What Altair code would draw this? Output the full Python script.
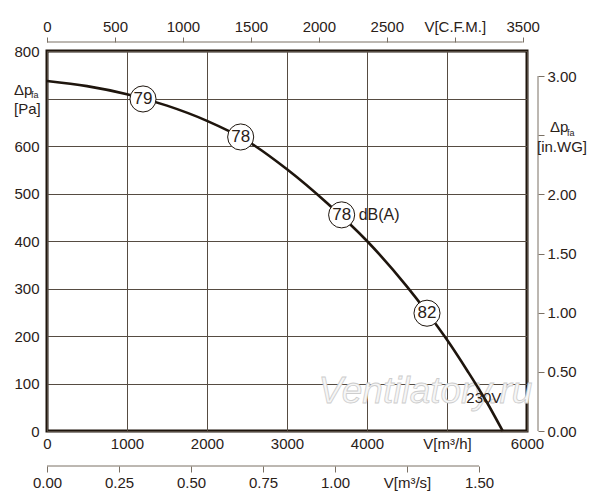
import altair as alt
import pandas as pd

# ---- data ----
flow_m3h = [0, 500, 1000, 1500, 2000, 2500, 3000, 3500, 4000, 4500, 4750, 5000, 5250, 5500, 5696]
pressure_pa = [737, 726, 709, 685, 653, 611, 551, 480, 400, 304, 250, 192, 128, 60, 0]

mark_flow = [1200, 2421, 3683, 4750]
mark_pa = [699, 619, 455, 248]
mark_db = ["79", "78", "78", "82"]
mark_unit = ["", "", "dB(A)", ""]

x_ticks = [0, 1000, 2000, 3000, 4000, 5000, 6000]
y_ticks = [0, 100, 200, 300, 400, 500, 600, 700, 800]
cfm_ticks = [0, 500, 1000, 1500, 2000, 2500, 3000, 3500]
m3s_ticks = [0, 0.25, 0.5, 0.75, 1.0, 1.25, 1.5]
inwg_ticks = [0, 0.5, 1.0, 1.5, 2.0, 2.5, 3.0]

M3H_PER_CFM = 1.699
M3H_PER_M3S = 3600.0
PA_PER_INWG = 249.089
X_MAX = 6000
Y_MAX = 800

W, H = 480, 380
FONT = "Liberation Sans"
DARK = "#1e150d"
TEXT = "#2a2118"
GRID = "#564c42"
AXC = "#7a7064"

curve_df = pd.DataFrame({"q": flow_m3h, "p": pressure_pa})
marks_df = pd.DataFrame({"q": mark_flow, "p": mark_pa, "db": mark_db, "unit": mark_unit})

xs = alt.Scale(domain=[0, X_MAX], nice=False, zero=True)
ys = alt.Scale(domain=[0, Y_MAX], nice=False, zero=True)

X_AXIS = alt.Axis(
    orient="bottom", values=x_ticks, format="d", title=None,
    ticks=False, tickSize=0, domain=False, grid=True, gridColor=GRID, gridWidth=1,
    labelPadding=5, labelFlush=False,
    labelExpr="datum.value == 5000 ? 'V[m³/h]' : datum.label")
Y_AXIS = alt.Axis(
    orient="left", values=y_ticks, format="d", title=None,
    ticks=False, tickSize=0, domain=False, grid=True, gridColor=GRID, gridWidth=1,
    labelPadding=8, labelFlush=False,
    labelExpr="datum.value == 700 ? '' : datum.label")


def fx(field=None, datum=None):
    if field is not None:
        return alt.X(field, scale=xs, axis=X_AXIS)
    return alt.X(datum=datum, scale=xs, axis=X_AXIS)


def fy(field=None, datum=None):
    if field is not None:
        return alt.Y(field, scale=ys, axis=Y_AXIS)
    return alt.Y(datum=datum, scale=ys, axis=Y_AXIS)


# ---- main plot ----
watermark = alt.Chart().mark_text(
    text="Ventilatory.ru", font=FONT, fontSize=37, fontStyle="italic",
    fill="#f6f6f6", stroke="#cdcdcd", strokeWidth=0.8
).encode(x=fx(datum=4730), y=fy(datum=82))

curve = alt.Chart(curve_df).mark_line(
    color=DARK, strokeWidth=2.6, interpolate="monotone"
).encode(x=fx("q:Q"), y=fy("p:Q"))

circles = alt.Chart(marks_df).mark_point(
    shape="circle", size=680, filled=True, fill="white", stroke=DARK, strokeWidth=1, opacity=1
).encode(x=fx("q:Q"), y=fy("p:Q"))

numbers = alt.Chart(marks_df).mark_text(
    font=FONT, fontSize=17, color=TEXT, baseline="middle"
).encode(x=fx("q:Q"), y=fy("p:Q"), text="db:N")

units = alt.Chart(marks_df).mark_text(
    font=FONT, fontSize=16, color=TEXT, align="left", baseline="middle", dx=17
).encode(x=fx("q:Q"), y=fy("p:Q"), text="unit:N")

volt = alt.Chart().mark_text(
    text="230V", font=FONT, fontSize=15, color=TEXT, baseline="middle"
).encode(x=fx(datum=5460), y=fy(datum=69))


def left_title(txt, dx, dy, size):
    return alt.Chart().mark_text(
        text=txt, font=FONT, fontSize=size, color=TEXT, align="left", baseline="middle", dx=dx, dy=dy
    ).encode(x=fx(datum=0), y=fy(datum=700))


main = alt.layer(
    watermark, curve, circles, numbers, units, volt,
    left_title("Δp", -33, -9, 15),
    left_title("fa", -16, -4, 9),
    left_title("[Pa]", -33, 10, 15),
)

# ---- top axis: C.F.M. ----
cfm_df = pd.DataFrame({"lo": [cfm_ticks[0]], "hi": [cfm_ticks[-1]]})
cfm = alt.Chart(cfm_df).mark_rule(color=AXC, strokeWidth=1).encode(
    x=alt.X("lo:Q", scale=alt.Scale(domain=[0, X_MAX / M3H_PER_CFM], nice=False, zero=True),
            axis=alt.Axis(orient="top", offset=9, values=cfm_ticks, format="d", title=None,
                          domain=False, ticks=True, tickSize=5, tickColor=AXC, grid=False,
                          labelPadding=3, labelFlush=False,
                          labelExpr="datum.value == 3000 ? 'V[C.F.M.]' : datum.label")),
    x2="hi:Q",
    y=alt.value(-9),
)

# ---- second bottom axis: m3/s ----
m3s_df = pd.DataFrame({"lo": [m3s_ticks[0]], "hi": [m3s_ticks[-1]]})
m3s = alt.Chart(m3s_df).mark_rule(color=AXC, strokeWidth=1).encode(
    x=alt.X("lo:Q", scale=alt.Scale(domain=[0, X_MAX / M3H_PER_M3S], nice=False, zero=True),
            axis=alt.Axis(orient="bottom", offset=35, values=m3s_ticks, format=".2f", title=None,
                          domain=False, ticks=True, tickSize=6, tickColor=AXC, grid=False,
                          labelPadding=3, labelFlush=False,
                          labelExpr="datum.value == 1.25 ? 'V[m³/s]' : datum.label")),
    x2="hi:Q",
    y=alt.value(H + 35),
)

# ---- right axis: in.WG ----
iws = alt.Scale(domain=[0, Y_MAX / PA_PER_INWG], nice=False, zero=True)
R_AXIS = alt.Axis(orient="right", offset=11, values=inwg_ticks, format=".2f", title=None,
                  domain=False, ticks=True, tickSize=6, tickColor=AXC, grid=False,
                  labelPadding=3, labelFlush=False,
                  labelExpr="datum.value == 2.5 ? '' : datum.label")
inwg_df = pd.DataFrame({"lo": [inwg_ticks[0]], "hi": [inwg_ticks[-1]]})
inwg_rule = alt.Chart(inwg_df).mark_rule(color=AXC, strokeWidth=1).encode(
    y=alt.Y("lo:Q", scale=iws, axis=R_AXIS),
    y2="hi:Q",
    x=alt.value(W + 11),
)


def right_title(txt, xpos, dy, size, align):
    return alt.Chart().mark_text(
        text=txt, font=FONT, fontSize=size, color=TEXT, align=align, baseline="middle", dy=dy
    ).encode(x=alt.value(xpos), y=alt.Y(datum=2.5, scale=iws, axis=R_AXIS))


inwg = alt.layer(
    inwg_rule,
    right_title("Δp", W + 23, -8, 15, "left"),
    right_title("fa", W + 40, -2, 9, "left"),
    right_title("[in.WG]", W + 35, 12, 15, "center"),
)

chart = alt.layer(main, cfm, m3s, inwg).resolve_scale(
    x="independent", y="independent"
).properties(
    width=W, height=H,
    padding={"left": 39, "top": 43, "right": 60, "bottom": 61},
    autosize=alt.AutoSizeParams(type="none"),
    background="white",
).configure_view(
    stroke=DARK, strokeWidth=3
).configure_axis(
    labelFont=FONT, labelFontSize=15, labelColor=TEXT
)

chart.save("out.html", embed_options={"renderer": "svg", "actions": False})
